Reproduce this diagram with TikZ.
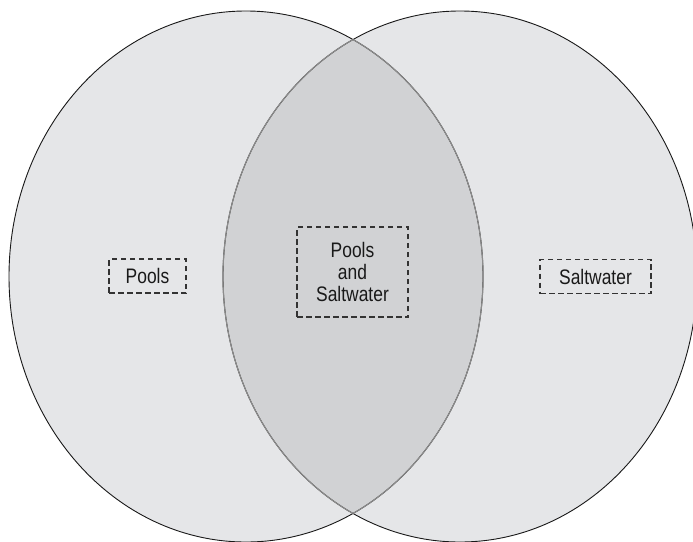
\documentclass[tikz,border=0pt]{standalone}
\usepackage{fontspec}
\setmainfont{Liberation Sans}[FakeStretch=0.83]
\definecolor{setfill}{HTML}{E5E6E8}
\definecolor{lensfill}{HTML}{D1D2D4}
\definecolor{lensline}{HTML}{8C8C8C}
\tikzset{
  setline/.style={draw=black!90, line width=0.9pt},
  namebox/.style={draw=black!80, dash pattern=on 5.5pt off 3.5pt, line width=1.2pt,
    text=black!90, font=\fontsize{21}{22}\selectfont, align=center,
    inner xsep=0pt, inner ysep=0pt},
}
\begin{document}
\begin{tikzpicture}[x=1pt,y=-1pt]
\useasboundingbox (0,0) rectangle (693,541);
%两个集合和交集
\coordinate (leftc) at (246,276.5);
\coordinate (rightc) at (460,276.5);
\fill[setfill] (leftc) ellipse [x radius=237pt, y radius=265.5pt];
\fill[setfill] (rightc) ellipse [x radius=237pt, y radius=265.5pt];
\begin{scope}
\clip (leftc) ellipse [x radius=237pt, y radius=265.5pt];
\fill[lensfill] (rightc) ellipse [x radius=237pt, y radius=265.5pt];
\end{scope}
\draw[setline] (leftc) ellipse [x radius=237pt, y radius=265.5pt];
\draw[setline] (rightc) ellipse [x radius=237pt, y radius=265.5pt];
\begin{scope}
\clip (leftc) ellipse [x radius=237pt, y radius=265.5pt];
\draw[lensline, line width=1.1pt] (rightc) ellipse [x radius=237pt, y radius=265.5pt];
\end{scope}
\begin{scope}
\clip (rightc) ellipse [x radius=237pt, y radius=265.5pt];
\draw[lensline, line width=1.1pt] (leftc) ellipse [x radius=237pt, y radius=265.5pt];
\end{scope}
\node[namebox, minimum width=77pt, minimum height=34pt] (pools) at (147.5,276) {Pools};
\node[namebox, minimum width=111pt, minimum height=90pt] (both) at (352.5,272) {Pools\\and\\Saltwater};
\node[namebox, minimum width=111pt, minimum height=34pt] (salt) at (595.5,276.5) {Saltwater};
\end{tikzpicture}
\end{document}
